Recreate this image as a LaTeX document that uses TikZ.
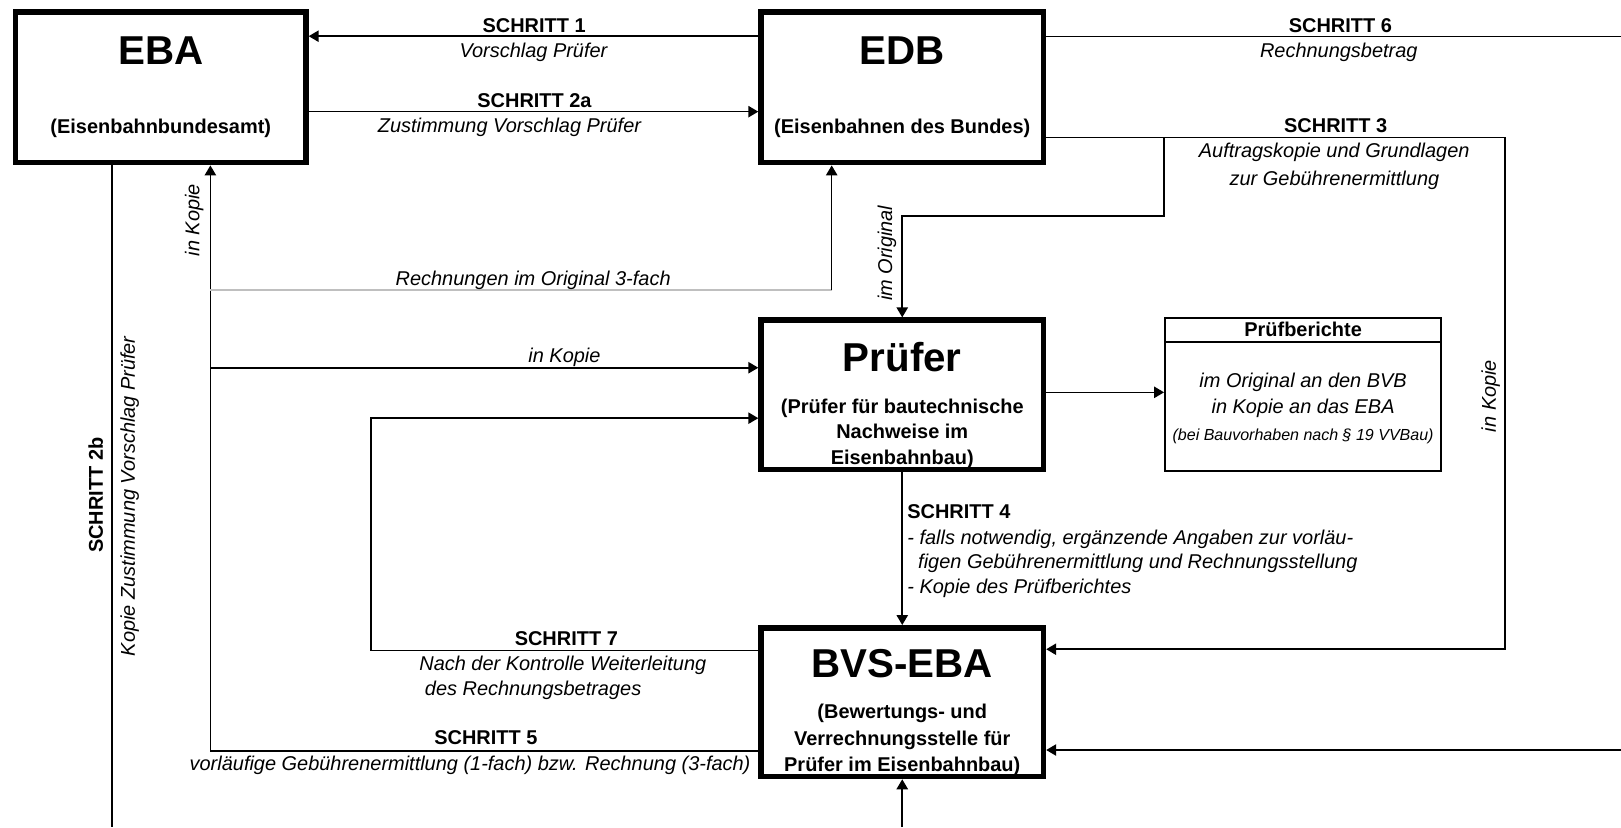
\documentclass[tikz,border=0pt]{standalone}
\usepackage{fontspec}
\setmainfont{Liberation Sans}
\usetikzlibrary{arrows.meta}
\begin{document}
\begin{tikzpicture}[x=1pt,y=-1pt,
  box/.style={draw, line width=5.3pt, minimum width=273.2pt, minimum height=145.7pt, inner sep=0pt},
  conn/.style={line width=1.5pt},
  arr/.style={line width=1.5pt, -{Triangle[length=9.7pt,width=11pt]}},
  greyline/.style={line width=2pt, draw=black!25},
  lbl/.style={inner sep=0pt, text height=13.8pt, text depth=0pt, font=\fontsize{19.3}{23}\selectfont},
  blbl/.style={lbl, font=\fontsize{19.3}{23}\selectfont\bfseries},
  ilbl/.style={lbl, font=\fontsize{19.3}{23}\selectfont\itshape},
  title/.style={inner sep=0pt, text height=27.9pt, text depth=0pt, font=\fontsize{39}{45}\selectfont\bfseries},
  smalli/.style={inner sep=0pt, text height=11.1pt, text depth=0pt, font=\fontsize{15.5}{18}\selectfont\itshape},
]
\useasboundingbox (0,0) rectangle (1568,800);
\fill[white] (0,0) rectangle (1568,800);

% boxes
\node[box, minimum width=280.9pt] (eba) at (155.5,84.5) {};
\node[box] (edb) at (872.75,84.5) {};
\node[box, minimum height=144.7pt] (pr) at (872.75,382) {};
\node[box, minimum height=143.9pt] (bvs) at (872.75,679.2) {};
\node[draw, line width=2pt, minimum width=267pt, minimum height=148pt, inner sep=0pt] (pb) at (1260.5,382) {};
\node[draw, line width=2pt, minimum width=267pt, minimum height=23pt, inner sep=0pt, anchor=north] (pbh) at (pb.north) {};

% connectors
\coordinate (lb) at (108.5,800);
\draw[conn] (eba.south -| lb) -- (lb);
\coordinate (s5c) at (203.5,726.5);
\draw[arr] (bvs.west |- s5c) -- (s5c) -- (s5c |- eba.south);
\coordinate (g1) at (203.5,280.5);
\coordinate (g2) at (804.5,280.5);
\draw[greyline] (g1) -- (g2);
\draw[arr] (g2) -- (g2 |- edb.south);
\coordinate (k1) at (203.5,355.7);
\draw[arr] (k1) -- (k1 -| pr.west);
\coordinate (s7a) at (359,629.4);
\coordinate (s7b) at (359,404.5);
\draw[arr] (bvs.west |- s7a) -- (s7a) -- (s7b) -- (s7b -| pr.west);
\coordinate (y1) at (0,35);
\draw[arr] (edb.west |- y1) -- (eba.east |- y1);
\coordinate (y2) at (0,108);
\draw[arr] (eba.east |- y2) -- (edb.west |- y2);
\coordinate (r6) at (1568,35.5);
\draw[conn] (edb.east |- r6) -- (r6);
\coordinate (s3a) at (1456,133);
\coordinate (s3b) at (1456,628);
\draw[arr] (edb.east |- s3a) -- (s3a) -- (s3b) -- (s3b -| bvs.east);
\coordinate (b1) at (1126,133);
\coordinate (b2) at (1126,209);
\draw[arr] (b1) -- (b2) -| (pr.north);
\draw[arr] (pr.south) -- (bvs.north);
\coordinate (pp) at (0,379.5);
\draw[arr] (pr.east |- pp) -- (pb.west |- pp);
\coordinate (rr) at (1568,725.5);
\draw[arr] (rr) -- (rr -| bvs.east);
\coordinate (bb) at (872.75,800);
\draw[arr] (bb) -- (bvs.south);

% box texts
\node[title] (ebat) at (155.5,48.4) {EBA};
\node[blbl] (ebas) at (155.5,122) {(Eisenbahnbundesamt)};
\node[title] (edbt) at (872.75,48.4) {EDB};
\node[blbl] (edbs) at (872.75,122) {(Eisenbahnen des Bundes)};
\node[title] (prt) at (872.75,345) {Prüfer};
\node[blbl] (prs1) at (872.75,392.7) {(Prüfer für bautechnische};
\node[blbl] (prs2) at (872.75,417.6) {Nachweise im};
\node[blbl] (prs3) at (872.75,442.7) {Eisenbahnbau)};
\node[title] (bvst) at (872.75,641.6) {BVS-EBA};
\node[blbl] (bvs1) at (872.75,688.4) {(Bewertungs- und};
\node[blbl] (bvs2) at (872.75,714.2) {Verrechnungsstelle für};
\node[blbl] (bvs3) at (872.75,739) {Prüfer im Eisenbahnbau)};
\node[blbl] (pbt) at (1260.5,319) {Prüfberichte};
\node[ilbl] (pb1) at (1260.5,367.6) {im Original an den BVB};
\node[ilbl] (pb2) at (1260.5,393.4) {in Kopie an das EBA};
\node[smalli] (pb3) at (1260.5,420.8) {(bei Bauvorhaben nach § 19 VVBau)};

% connector labels
\node[blbl] (l1) at (516.7,24.5) {SCHRITT 1};
\node[ilbl] (l1b) at (516,48.7) {Vorschlag Prüfer};
\node[blbl] (l2a) at (517,97.4) {SCHRITT 2a};
\node[ilbl] (l2ab) at (492.8,121.6) {Zustimmung Vorschlag Prüfer};
\node[ilbl] (lr) at (515.7,269) {Rechnungen im Original 3-fach};
\node[blbl] (l6) at (1296.5,24.5) {SCHRITT 6};
\node[ilbl] (l6b) at (1295,49) {Rechnungsbetrag};
\node[blbl] (l3) at (1292,121.2) {SCHRITT 3};
\node[ilbl] (l3b) at (1290.6,145) {Auftragskopie und Grundlagen};
\node[ilbl] (l3c) at (1290.8,173) {zur Gebührenermittlung};
\node[ilbl] (lk) at (546,344) {in Kopie};
\node[blbl, anchor=west] (l4) at (877.5,494.3) {SCHRITT 4};
\node[ilbl, anchor=west] (l4a) at (877.5,519.8) {- falls notwendig, ergänzende Angaben zur vorläu-};
\node[ilbl, anchor=west] (l4b) at (888,543.3) {figen Gebührenermittlung und Rechnungsstellung};
\node[ilbl, anchor=west] (l4c) at (877.5,567.5) {- Kopie des Prüfberichtes};
\node[blbl] (l7) at (547.8,617.5) {SCHRITT 7};
\node[ilbl] (l7a) at (544.4,641.6) {Nach der Kontrolle Weiterleitung};
\node[ilbl] (l7b) at (515.7,665.8) {des Rechnungsbetrages};
\node[blbl] (l5) at (470,713.5) {SCHRITT 5};
\node[ilbl] (l5a) at (454.7,738.4) {vorläufige Gebührenermittlung (1-fach) bzw. Rechnung (3-fach)};
\node[ilbl, rotate=90] (rk1) at (186,213) {in Kopie};
\node[ilbl, rotate=90] (rio) at (856,245) {im Original};
\node[ilbl, rotate=90] (rk2) at (1440,383) {in Kopie};
\node[blbl, rotate=90] (r2b) at (92.5,479) {SCHRITT 2b};
\node[ilbl, rotate=90] (r2bb) at (123.5,480) {Kopie Zustimmung Vorschlag Prüfer};
\end{tikzpicture}
\end{document}
